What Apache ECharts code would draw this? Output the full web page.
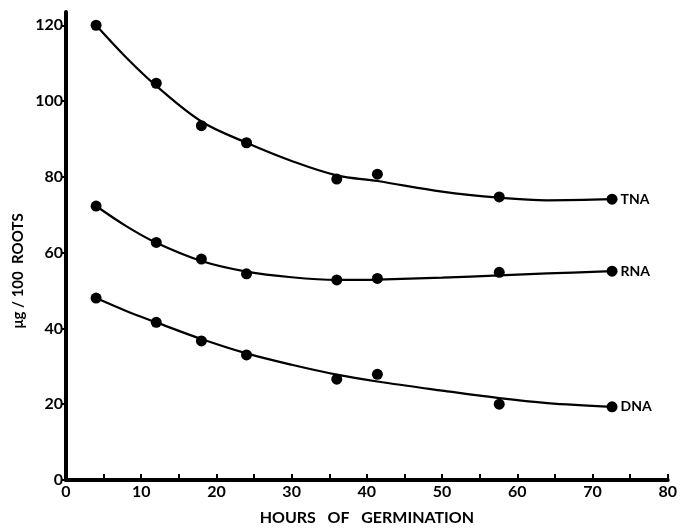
<!DOCTYPE html>
<html>
<head>
<meta charset="utf-8">
<script src="https://cdn.jsdelivr.net/npm/echarts@6/dist/echarts.min.js"></script>
<style>html,body{margin:0;padding:0;background:#fff;}#c{width:680px;height:531px;}</style>
</head>
<body>
<div id="c"></div>
<script>
// Measured points (hours, ug/100 roots)
const hours = [4, 12, 18, 24, 36, 41.4, 57.6, 72.6];
const tnaVals = [120, 104.7, 93.5, 89, 79.4, 80.7, 74.7, 74.1];
const rnaVals = [72.3, 62.7, 58.3, 54.4, 52.8, 53.2, 54.8, 55.1];
const dnaVals = [48, 41.6, 36.7, 33, 26.6, 27.9, 20.0, 19.3];

// Fitted curves
const curveHours = [4, 8, 12, 18, 24, 30, 36, 41.4, 50, 57.6, 64, 72.6];
const tnaCurve = [120, 111.5, 104, 94.6, 89, 84.2, 80.4, 78.9, 76.1, 74.5, 73.8, 74.1];
const rnaCurve = [72.3, 67, 62.6, 57.8, 55, 53.5, 52.8, 52.9, 53.4, 54, 54.5, 55.1];
const dnaCurve = [48, 44.6, 41.6, 37.2, 33.4, 30.4, 27.8, 26, 23.6, 21.6, 20.3, 19.3];

const xTicks = [0, 10, 20, 30, 40, 50, 60, 70, 80];
const yTicks = [0, 20, 40, 60, 80, 100, 120];
const seriesNames = ['TNA', 'RNA', 'DNA'];

const font = 'Lato, "DejaVu Sans", sans-serif';
const zip = (xs, ys) => xs.map((x, i) => [x, ys[i]]);

function pointSeries(name, vals) {
  return {
    type: 'scatter', name: name, data: zip(hours, vals),
    symbol: 'circle', symbolSize: 11, itemStyle: { color: '#000', opacity: 1 },
    label: {
      show: true, position: 'right', distance: 3, color: '#000',
      fontFamily: font, fontSize: 14, fontWeight: 'bold',
      formatter: p => p.dataIndex === hours.length - 1 ? name : ''
    },
    z: 3
  };
}
function curveSeries(vals) {
  return {
    type: 'line', data: zip(curveHours, vals), smooth: 0.35,
    showSymbol: false, symbol: 'none',
    lineStyle: { color: '#000', width: 2.2 }, z: 2, silent: true
  };
}

const chart = echarts.init(document.getElementById('c'));
chart.setOption({
  animation: false,
  backgroundColor: '#fff',
  grid: { left: 66, right: 10, top: 12, bottom: 51, containLabel: false },
  xAxis: {
    type: 'value', min: 0, max: 80, interval: 10,
    axisLine: { show: true, lineStyle: { color: '#000', width: 4 } },
    axisTick: { show: true, inside: true, length: 6, lineStyle: { color: '#000', width: 2 }, customValues: xTicks },
    minorTick: { show: true, splitNumber: 2, length: 6, lineStyle: { color: '#000', width: 2 } },
    axisLabel: { color: '#000', fontFamily: font, fontSize: 16, fontWeight: 'bold', margin: 4, customValues: xTicks },
    splitLine: { show: false },
    name: 'HOURS   OF   GERMINATION', nameLocation: 'middle', nameGap: 30,
    nameTextStyle: { color: '#000', fontFamily: font, fontSize: 16, fontWeight: 'bold' }
  },
  yAxis: {
    type: 'value', min: 0, max: 123.5, interval: 20,
    axisLine: { show: true, lineStyle: { color: '#000', width: 4 } },
    axisTick: { show: true, inside: false, length: 4, lineStyle: { color: '#000', width: 2 }, customValues: yTicks },
    axisLabel: { color: '#000', fontFamily: font, fontSize: 16, fontWeight: 'bold', margin: 3, customValues: yTicks },
    splitLine: { show: false }
  },
  graphic: [{
    type: 'text', x: 18, y: 271, rotation: Math.PI / 2,
    style: { text: 'μg / 100  ROOTS', fill: '#000', font: 'bold 15px ' + font, textAlign: 'center', textVerticalAlign: 'middle' }
  }],
  series: [
    curveSeries(tnaCurve), curveSeries(rnaCurve), curveSeries(dnaCurve),
    pointSeries(seriesNames[0], tnaVals), pointSeries(seriesNames[1], rnaVals), pointSeries(seriesNames[2], dnaVals)
  ]
});
</script>
</body>
</html>
